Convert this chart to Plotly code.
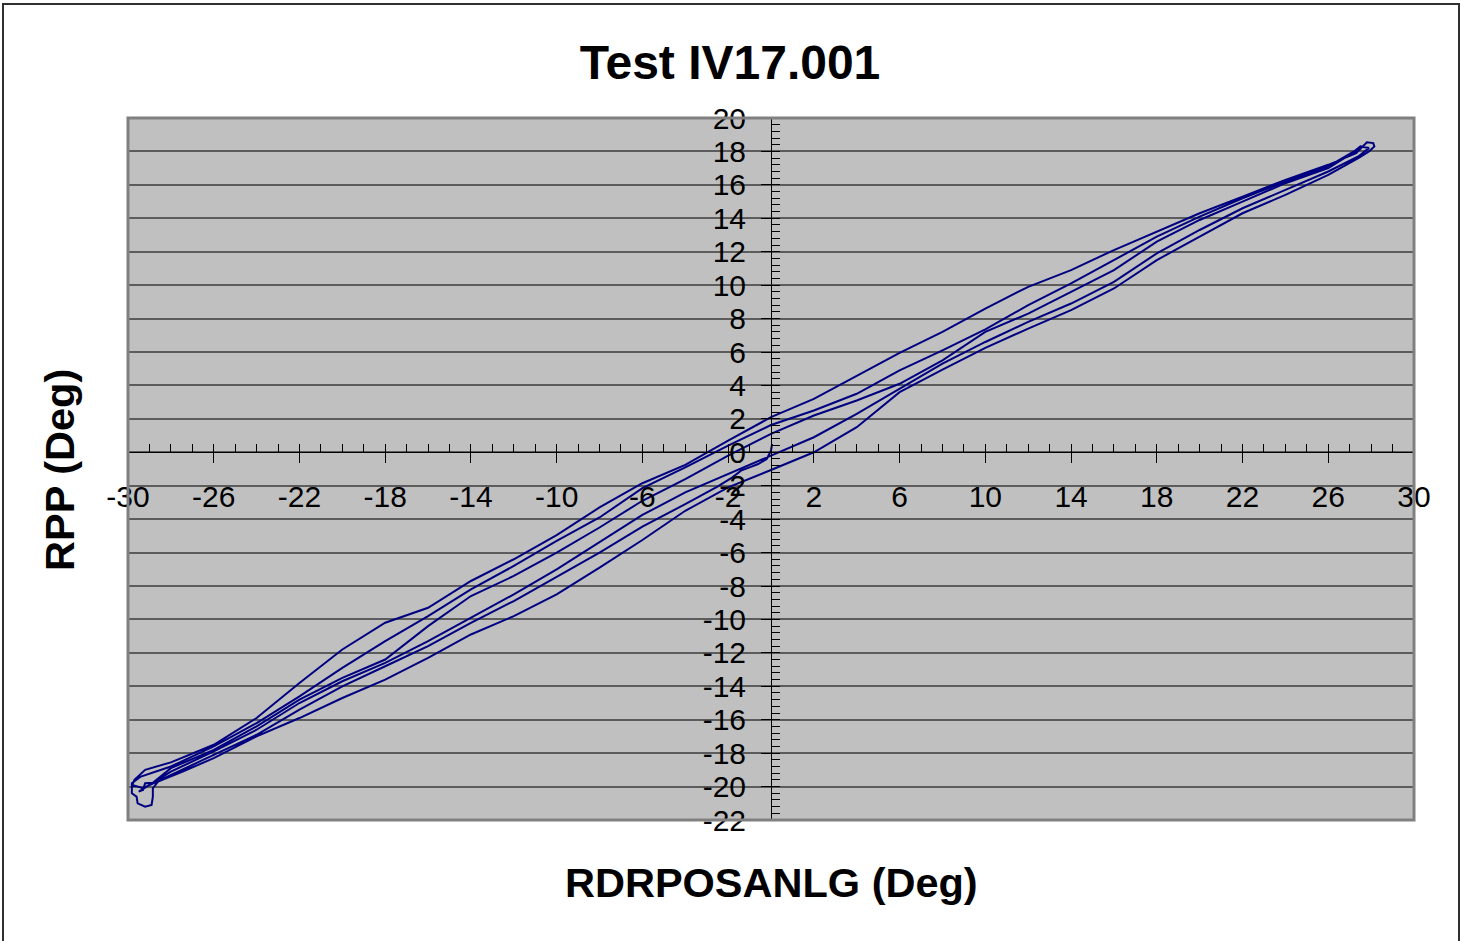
import plotly.graph_objects as go

# Rudder position sweep: RDRPOSANLG (x) against RPP (y), both in degrees.
# Each branch is sampled at the same RDRPOSANLG stations.
stations = [-28, -26, -24, -22, -20, -18, -16, -14, -12, -10, -8, -6, -4, -2,
            0, 2, 4, 6, 8, 10, 12, 14, 16, 18, 20, 22, 24, 26]

branch_a = [-18.55, -17.5, -15.9, -13.8, -11.8, -10.2, -9.3, -7.7, -6.4, -4.95,
            -3.3, -1.85, -0.75, 0.7, 2.1, 3.2, 4.6, 5.95, 7.2, 8.6, 9.9, 10.9,
            12.1, 13.2, 14.3, 15.3, 16.3, 17.2]
branch_b = [-18.8, -17.6, -16.2, -14.6, -12.9, -11.3, -9.8, -8.2, -6.8, -5.3,
            -3.9, -2.15, -0.9, 0.4, 1.63, 2.5, 3.5, 4.9, 6.1, 7.35, 8.8, 10.1,
            11.5, 12.9, 14.1, 15.2, 16.2, 17.1]
branch_c = [-18.9, -17.8, -16.4, -14.8, -13.5, -12.4, -10.4, -8.6, -7.4, -6.0,
            -4.5, -2.9, -1.6, -0.2, 1.1, 2.2, 3.1, 4.1, 5.5, 7.2, 8.3, 9.6,
            10.9, 12.6, 13.9, 15.0, 16.1, 17.0]
branch_d = [-19.1, -17.9, -16.6, -15.0, -13.7, -12.6, -11.3, -9.9, -8.5, -7.0,
            -5.4, -3.75, -2.4, -1.3, -0.2, 0.9, 2.3, 3.8, 5.3, 6.6, 7.8, 8.9,
            10.2, 11.9, 13.3, 14.6, 15.7, 16.8]
branch_e = [-19.3, -18.1, -16.9, -15.4, -14.0, -12.8, -11.6, -10.2, -8.9, -7.45,
            -6.0, -4.45, -3.1, -1.96, -0.9, 0.35, 1.9, 3.75, 5.1, 6.4, 7.55, 8.6,
            9.9, 11.7, 13.1, 14.4, 15.5, 16.7]
branch_f = [-19.6, -18.3, -17.0, -15.9, -14.7, -13.6, -12.3, -10.9, -9.8, -8.5,
            -6.9, -5.25, -3.5, -2.1, -1.06, 0.0, 1.5, 3.6, 4.95, 6.25, 7.4, 8.5,
            9.8, 11.5, 12.9, 14.3, 15.4, 16.6]

# Initial movement away from neutral
start_x = [0.05, 0.0, -0.2, -0.6, -1.0, -1.4, -1.8, -2.2, -2.5]
start_y = [0.5, 0.1, -0.4, -0.7, -0.9, -1.1, -1.5, -1.8, -2.05]

# Reversals at the travel limits
left_turn1_x = [-29.3, -29.8, -29.7, -29.2]
left_turn1_y = [-20.1, -19.9, -19.6, -19.0]
right_turn1_x = [27.3, 27.8, 28.1, 28.15, 27.9, 27.4]
right_turn1_y = [17.9, 18.55, 18.5, 18.3, 18.0, 17.6]
left_turn2_x = [-27.45, -28.6, -28.84, -28.84, -28.9, -29.2, -29.55, -29.6, -29.82, -29.82, -29.4]
left_turn2_y = [-19.1, -19.7, -20.1, -20.6, -21.1, -21.2, -21.0, -20.6, -20.4, -19.8, -19.4]
right_turn2_x = [27.2, 27.5, 27.9, 27.4]
right_turn2_y = [18.0, 18.3, 18.2, 17.7]
left_turn3_x = [-29.5, -29.3, -29.2, -28.84]
left_turn3_y = [-20.3, -20.2, -19.8, -19.77]
end_x = [27.0, 27.5]
end_y = [17.8, 18.2]

# Axis tick labels (plain hyphen for negatives)
x_tick_vals = [-30, -26, -22, -18, -14, -10, -6, -2, 2, 6, 10, 14, 18, 22, 26, 30]
x_tick_text = ["-30", "-26", "-22", "-18", "-14", "-10", "-6", "-2",
               "2", "6", "10", "14", "18", "22", "26", "30"]
y_tick_vals = [-22, -20, -18, -16, -14, -12, -10, -8, -6, -4, -2,
               0, 2, 4, 6, 8, 10, 12, 14, 16, 18, 20]
y_tick_text = ["-22", "-20", "-18", "-16", "-14", "-12", "-10", "-8", "-6", "-4", "-2",
               "0", "2", "4", "6", "8", "10", "12", "14", "16", "18", "20"]


def leg(branch, lo, hi, reverse):
    pts = [(s, v) for s, v in zip(stations, branch) if lo <= s <= hi]
    if reverse:
        pts = pts[::-1]
    return [p[0] for p in pts], [p[1] for p in pts]


segments = [
    (start_x, start_y),
    leg(branch_e, -28, -4, True),
    (left_turn1_x, left_turn1_y),
    leg(branch_a, -28, 26, False),
    (right_turn1_x, right_turn1_y),
    leg(branch_f, -26, 26, True),
    (left_turn2_x, left_turn2_y),
    leg(branch_b, -28, 26, False),
    (right_turn2_x, right_turn2_y),
    leg(branch_d, -28, 26, True),
    (left_turn3_x, left_turn3_y),
    leg(branch_c, -28, 26, False),
    (end_x, end_y),
]

path_x, path_y = [], []
for sx, sy in segments:
    path_x += list(sx)
    path_y += list(sy)

FONT = "Arial, 'Liberation Sans', sans-serif"
X_RANGE = [-30, 30]
Y_RANGE = [-22, 20]
x_axis_pos = (0 - Y_RANGE[0]) / (Y_RANGE[1] - Y_RANGE[0])
y_axis_pos = (0 - X_RANGE[0]) / (X_RANGE[1] - X_RANGE[0])

fig = go.Figure()
fig.add_trace(go.Scatter(
    x=path_x, y=path_y, mode="lines",
    line=dict(color="#000080", width=2),
    showlegend=False, hoverinfo="skip",
))
# placeholder so the overlay axes (inner major ticks) are rendered
fig.add_trace(go.Scatter(x=[None], y=[None], xaxis="x2", yaxis="y2",
                         showlegend=False, hoverinfo="skip"))

fig.update_layout(
    width=1460, height=941,
    margin=dict(l=128, r=46, t=118, b=121),
    paper_bgcolor="white",
    plot_bgcolor="#C0C0C0",
    font=dict(family=FONT, color="black"),
    title=dict(text="<b>Test IV17.001</b>", x=0.5, xref="container",
               y=1 - 62 / 941, yref="container", xanchor="center", yanchor="middle",
               font=dict(size=48, family=FONT, color="black")),
    xaxis=dict(
        range=X_RANGE, anchor="free", position=x_axis_pos,
        tickmode="array", tickvals=x_tick_vals, ticktext=x_tick_text,
        ticks="outside", ticklen=10, tickwidth=1, tickcolor="black",
        showline=True, linecolor="black", linewidth=1,
        showgrid=False, zeroline=False,
        tickfont=dict(size=30, family=FONT, color="black"),
        ticklabelstandoff=8,
        minor=dict(tick0=-30, dtick=1, ticks="inside", ticklen=8, tickwidth=1,
                   tickcolor="black", showgrid=False),
    ),
    yaxis=dict(
        range=Y_RANGE, anchor="free", position=y_axis_pos,
        tickmode="array", tickvals=y_tick_vals, ticktext=y_tick_text,
        ticks="outside", ticklen=10, tickwidth=1, tickcolor="black",
        showline=True, linecolor="black", linewidth=1,
        showgrid=True, gridcolor="#5c5c5c", gridwidth=2, zeroline=False,
        tickfont=dict(size=30, family=FONT, color="black"),
        ticklabelstandoff=9,
        minor=dict(tick0=-22, dtick=0.4, ticks="inside", ticklen=8, tickwidth=1,
                   tickcolor="black", showgrid=False),
    ),
    xaxis2=dict(
        range=X_RANGE, overlaying="x", anchor="free", position=x_axis_pos,
        tick0=-30, dtick=4, ticks="inside", ticklen=8, tickwidth=1, tickcolor="black",
        showticklabels=False, showgrid=False, zeroline=False, showline=False,
    ),
    yaxis2=dict(
        range=Y_RANGE, overlaying="y", anchor="free", position=y_axis_pos,
        tick0=-22, dtick=2, ticks="inside", ticklen=8, tickwidth=1, tickcolor="black",
        showticklabels=False, showgrid=False, zeroline=False, showline=False,
    ),
    shapes=[
        # plot area frame
        dict(type="rect", xref="paper", yref="paper", x0=0, x1=1, y0=0, y1=1,
             line=dict(color="#808080", width=3), layer="above"),
        # chart frame
        dict(type="rect", xref="paper", yref="paper",
             x0=-0.0972, x1=1.035, y0=-0.19, y1=1.1624,
             line=dict(color="#303030", width=2)),
    ],
    annotations=[
        dict(text="<b>RDRPOSANLG (Deg)</b>", xref="paper", yref="paper",
             x=0.5, y=-0.0897, xanchor="center", yanchor="middle", showarrow=False,
             font=dict(size=41.5, family=FONT, color="black")),
        dict(text="<b>RPP (Deg)</b>", xref="paper", yref="paper",
             x=-0.0529, y=0.4986, xanchor="center", yanchor="middle", showarrow=False,
             textangle=-90, font=dict(size=41.5, family=FONT, color="black")),
    ],
)

fig.write_html("out.html")
